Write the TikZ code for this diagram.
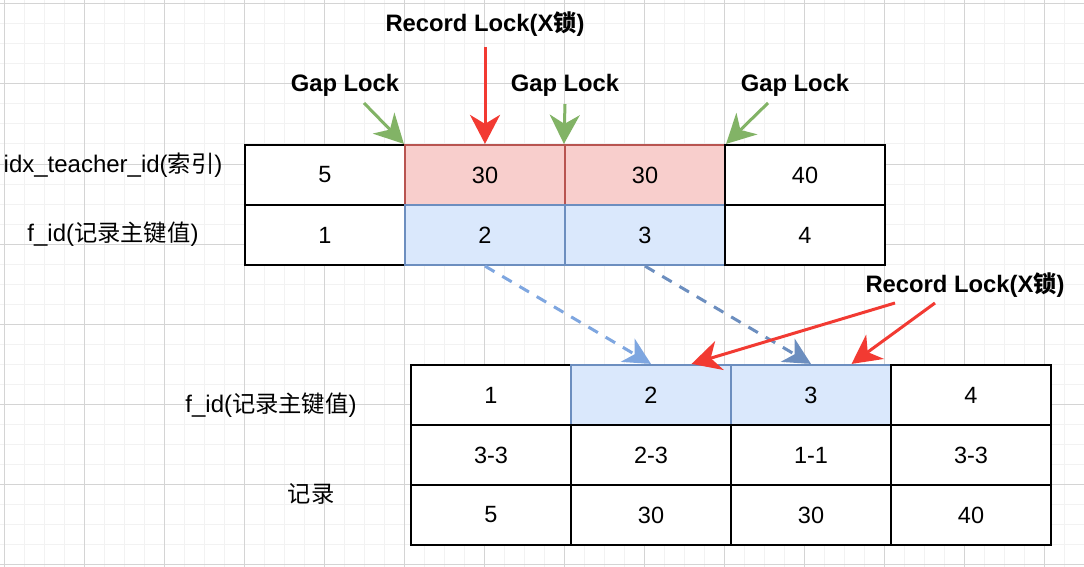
\documentclass[tikz,border=0pt]{standalone}
\usepackage{fontspec}
\setmainfont{Liberation Sans}
\newfontfamily\cjk{Noto Sans CJK SC}[Scale=0.97]
\usetikzlibrary{arrows.meta,calc}
\definecolor{gminor}{HTML}{F2F2F2}
\definecolor{gmajor}{HTML}{D4D4D4}
\definecolor{redfill}{HTML}{F8CECC}
\definecolor{redline}{HTML}{B85450}
\definecolor{bluefill}{HTML}{DAE8FC}
\definecolor{blueline}{HTML}{6C8EBF}
\definecolor{bluelight}{HTML}{7EA6E0}
\definecolor{greenline}{HTML}{82B366}
\definecolor{redarrow}{HTML}{F23A32}
\tikzset{
  cell/.style={draw=black, fill=white, line width=2.2pt, minimum width=160pt, minimum height=60pt, inner sep=0pt, font=\fontsize{23.5}{27}\selectfont},
  redcell/.style={cell, draw=redline, fill=redfill},
  bluecell/.style={cell, draw=blueline, fill=bluefill},
  lbl/.style={inner sep=0pt, font=\fontsize{24}{28}\selectfont},
  boldlbl/.style={inner sep=0pt, font=\fontsize{23.8}{27}\selectfont\bfseries},
  redarr/.style={draw=redarrow, line width=3pt, -{Stealth[length=29pt, width=30pt, inset=9pt]}},
  greenarr/.style={draw=greenline, line width=3pt, -{Stealth[length=29pt, width=30pt, inset=9pt]}},
  bluearr/.style={line width=3pt, dash pattern=on 11pt off 9pt, -{Stealth[length=27pt, width=27pt, inset=8pt]}},
}
\begin{document}
\begin{tikzpicture}[x=1pt,y=-1pt]
\useasboundingbox (0,0) rectangle (1084,567);
\fill[white] (0,0) rectangle (1084,567);
% grid
\foreach \x in {4,24,...,1084} \draw[gminor, line width=1pt] (\x,0) -- (\x,567);
\foreach \y in {4,24,...,567} \draw[gminor, line width=1pt] (0,\y) -- (1084,\y);
\foreach \x in {4,84,...,1084} \draw[gmajor, line width=1pt] (\x,0) -- (\x,567);
\foreach \y in {4,84,...,567} \draw[gmajor, line width=1pt] (0,\y) -- (1084,\y);

% top table
\node[cell]    (t1a) at (325,175) {5};
\node[redcell] (t1b) at (485,175) {30};
\node[redcell] (t1c) at (645,175) {30};
\node[cell]    (t1d) at (805,175) {40};
\node[cell]     (t2a) at (325,235) {1};
\node[bluecell] (t2b) at (485,235) {2};
\node[bluecell] (t2c) at (645,235) {3};
\node[cell]     (t2d) at (805,235) {4};

% bottom table
\node[cell]     (b1a) at (491,395) {1};
\node[bluecell] (b1b) at (651,395) {2};
\node[bluecell] (b1c) at (811,395) {3};
\node[cell]     (b1d) at (971,395) {4};
\node[cell] (b2a) at (491,455) {3-3};
\node[cell] (b2b) at (651,455) {2-3};
\node[cell] (b2c) at (811,455) {1-1};
\node[cell] (b2d) at (971,455) {3-3};
\node[cell] (b3a) at (491,515) {5};
\node[cell] (b3b) at (651,515) {30};
\node[cell] (b3c) at (811,515) {30};
\node[cell] (b3d) at (971,515) {40};

% side labels
\node[lbl] (lidx) at (113,165) {idx\_teacher\_id({\cjk 索引})};
\node[lbl] (lfid) at (113,234) {f\_id({\cjk 记录主键值})};
\node[lbl] (lfid2) at (271,405) {f\_id({\cjk 记录主键值})};
\node[lbl] (lrec) at (311,494) {\cjk 记录};

% lock labels
\node[boldlbl] (rl1) at (485,24) {Record Lock(X{\cjk\bfseries 锁})};
\node[boldlbl] (gl1) at (345,85) {Gap Lock};
\node[boldlbl] (gl2) at (565,85) {Gap Lock};
\node[boldlbl] (gl3) at (795,85) {Gap Lock};
\node[boldlbl] (rl2) at (965,285) {Record Lock(X{\cjk\bfseries 锁})};

% arrow start coordinates
\coordinate (rs1) at (485,47);
\coordinate (gs1) at (364,103);
\coordinate (gs2) at (565,104);
\coordinate (gs3) at (768,103);
\coordinate (rs2) at (895,303);
\coordinate (rs3) at (935,303);

\draw[redarr] (rs1) -- (t1b.north);
\draw[greenarr] (gs1) -- (t1b.north west);
\draw[greenarr] (gs2) -- (t1c.north west);
\draw[greenarr] (gs3) -- (t1c.north east);

\draw[bluearr, draw=bluelight] (t2b.south) -- (b1b.north);
\draw[bluearr, draw=blueline] (t2c.south) -- (b1c.north);

\draw[redarr] (rs2) -- ($(b1b.north west)!0.75!(b1b.north east)$);
\draw[redarr] (rs3) -- ($(b1c.north west)!0.75!(b1c.north east)$);
\end{tikzpicture}
\end{document}
